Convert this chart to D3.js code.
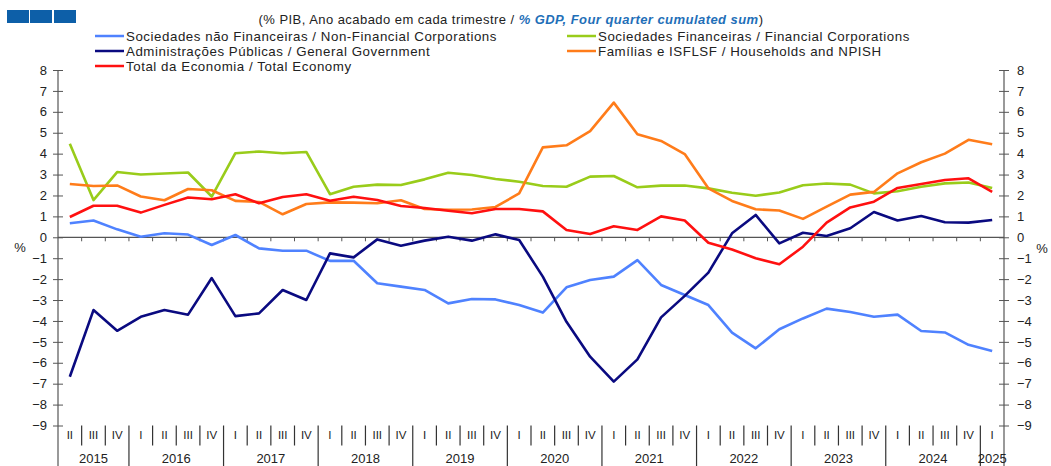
<!DOCTYPE html>
<html>
<head>
<meta charset="utf-8">
<script src="https://cdn.jsdelivr.net/npm/d3@7"></script>
<style>
  body { margin: 0; background: #fff; }
  text { font-family: "Liberation Sans", Arial, sans-serif; }
</style>
</head>
<body>
<script>
// Quarters: 2015 II .. 2025 I
const years = ['2015', '2016', '2017', '2018', '2019', '2020', '2021', '2022', '2023', '2024', '2025'];
const quarterNames = ['I', 'II', 'III', 'IV'];

const nonFinancial = [0.67, 0.8, 0.38, 0.03, 0.19, 0.13, -0.37, 0.11, -0.53, -0.64, -0.64, -1.13,
  -1.12, -2.2, -2.36, -2.52, -3.16, -2.95, -2.97, -3.24, -3.6, -2.39, -2.04, -1.88,
  -1.09, -2.28, -2.76, -3.24, -4.56, -5.31, -4.4, -3.88, -3.41, -3.57, -3.8, -3.7,
  -4.48, -4.55, -5.14, -5.44];
const financial = [4.47, 1.78, 3.12, 3.0, 3.05, 3.1, 1.95, 4.02, 4.1, 4.02, 4.08, 2.06,
  2.42, 2.52, 2.5, 2.77, 3.09, 2.98, 2.79, 2.66, 2.45, 2.42, 2.9, 2.93,
  2.39, 2.47, 2.48, 2.34, 2.13, 1.99, 2.14, 2.49, 2.57, 2.52, 2.1, 2.2,
  2.42, 2.58, 2.62, 2.36];
const government = [-6.67, -3.48, -4.47, -3.8, -3.48, -3.7, -1.95, -3.77, -3.64, -2.52, -3.0, -0.77,
  -0.96, -0.1, -0.4, -0.16, 0.03, -0.16, 0.14, -0.13, -1.88, -4.04, -5.71, -6.9,
  -5.84, -3.83, -2.8, -1.69, 0.19, 1.07, -0.29, 0.22, 0.06, 0.43, 1.21, 0.8,
  1.02, 0.72, 0.7, 0.83];
const households = [2.55, 2.45, 2.48, 1.95, 1.77, 2.31, 2.25, 1.74, 1.69, 1.1, 1.59, 1.67,
  1.66, 1.63, 1.77, 1.35, 1.32, 1.33, 1.45, 2.1, 4.3, 4.4, 5.08, 6.44,
  4.93, 4.61, 3.98, 2.34, 1.74, 1.34, 1.28, 0.88, 1.47, 2.04, 2.17, 3.06,
  3.59, 4.0, 4.66, 4.45];
const total = [0.97, 1.51, 1.51, 1.18, 1.55, 1.9, 1.82, 2.06, 1.63, 1.93, 2.06, 1.75,
  1.94, 1.78, 1.5, 1.4, 1.27, 1.15, 1.35, 1.35, 1.24, 0.35, 0.16, 0.53,
  0.35, 1.0, 0.8, -0.26, -0.58, -1.0, -1.29, -0.45, 0.7, 1.43, 1.7, 2.36,
  2.55, 2.74, 2.82, 2.17];

const yTicks = d3.range(-9, 9);

// build the quarter list
let quarters = [];
years.forEach(function (yr) {
  quarterNames.forEach(function (q, qi) {
    if (yr === '2015' && qi === 0) return;
    if (yr === '2025' && qi > 0) return;
    quarters.push({ key: yr + ' ' + q, year: yr, q: q });
  });
});

const series = [
  { name: 'Sociedades não Financeiras / Non-Financial Corporations', values: nonFinancial, color: '#4f82ff' },
  { name: 'Sociedades Financeiras / Financial Corporations', values: financial, color: '#99cc1a' },
  { name: 'Administrações Públicas / General Government', values: government, color: '#0a0a80' },
  { name: 'Famílias e ISFLSF / Households and NPISH', values: households, color: '#ff7c1a' },
  { name: 'Total da Economia / Total Economy', values: total, color: '#ff1010' }
];

let width = 1051, height = 466;
let margin = { top: 70, bottom: 40.5, left: 58, right: 47 };
let axisColor = '#555';

let svg = d3.select('body')
  .append('svg')
  .attr('width', width)
  .attr('height', height);

let xScale = d3.scaleBand()
  .domain(quarters.map(d => d.key))
  .range([margin.left, width - margin.right]);

let yScale = d3.scaleLinear()
  .domain([-9, 8])
  .range([height - margin.bottom, margin.top]);

// header blocks
[7, 30, 54].forEach(function (x) {
  svg.append('rect').attr('x', x).attr('y', 10).attr('width', 22).attr('height', 13).attr('fill', '#0d5fa8');
});

// title
let title = svg.append('text')
  .attr('x', 511).attr('y', 24)
  .attr('text-anchor', 'middle')
  .style('font-size', '13px')
  .style('letter-spacing', '0.45px')
  .attr('fill', '#222');
title.append('tspan').text('(% PIB, Ano acabado em cada trimestre / ');
title.append('tspan').text('% GDP, Four quarter cumulated sum')
  .attr('fill', '#1f6fb8').style('font-weight', 'bold').style('font-style', 'italic');
title.append('tspan').text(')');

// legend
let legendPos = [
  { x: 95, y: 36 }, { x: 567, y: 36 },
  { x: 95, y: 51 }, { x: 567, y: 51 },
  { x: 95, y: 66 }
];
series.forEach(function (s, i) {
  let p = legendPos[i];
  svg.append('line')
    .attr('x1', p.x).attr('x2', p.x + 29)
    .attr('y1', p.y).attr('y2', p.y)
    .attr('stroke', s.color).attr('stroke-width', 2.5);
  svg.append('text')
    .attr('x', p.x + 31).attr('y', p.y + 4.5)
    .style('font-size', '13.3px')
    .style('letter-spacing', '0.55px')
    .attr('fill', '#222')
    .text(s.name);
});

// y axes
let leftAxis = svg.append('g')
  .attr('transform', `translate(${margin.left},0)`)
  .call(d3.axisLeft(yScale).tickValues(yTicks).tickFormat(d3.format('d')).tickSize(5).tickPadding(6));
let rightAxis = svg.append('g')
  .attr('transform', `translate(${width - margin.right},0)`)
  .call(d3.axisRight(yScale).tickValues(yTicks).tickFormat(d3.format('d')).tickSize(5).tickPadding(8));

[leftAxis, rightAxis].forEach(function (ax) {
  ax.select('.domain').remove();
  ax.selectAll('.tick line').attr('x1', -5).attr('x2', 5).attr('stroke', axisColor);
  ax.selectAll('.tick text').style('font-size', '13px').attr('fill', '#222').style('font-family', '"Liberation Sans", Arial, sans-serif');
});

// vertical axis lines running down to the bottom
[margin.left, width - margin.right].forEach(function (x) {
  svg.append('line')
    .attr('x1', x).attr('x2', x)
    .attr('y1', yScale(8)).attr('y2', height)
    .attr('stroke', axisColor).attr('stroke-width', 1.2);
});

svg.append('text').attr('x', 20).attr('y', yScale(0) + 15).attr('text-anchor', 'middle')
  .style('font-size', '13px').attr('fill', '#222').text('%');
svg.append('text').attr('x', 1042).attr('y', yScale(0) + 16).attr('text-anchor', 'middle')
  .style('font-size', '13px').attr('fill', '#222').text('%');

// zero line with quarter ticks
let zeroAxis = svg.append('g')
  .attr('transform', `translate(0,${yScale(0)})`);
zeroAxis.append('line')
  .attr('x1', margin.left).attr('x2', width - margin.right)
  .attr('stroke', axisColor).attr('stroke-width', 1.2);
zeroAxis.selectAll('.zt')
  .data(quarters.slice(1))
  .enter()
  .append('line')
  .attr('x1', d => xScale(d.key)).attr('x2', d => xScale(d.key))
  .attr('y1', 0).attr('y2', 4)
  .attr('stroke', axisColor);

// bottom category axis
let bottomTop = yScale(-9);
let catAxis = svg.append('g');
catAxis.selectAll('.sep')
  .data(quarters.slice(1))
  .enter()
  .append('line')
  .attr('x1', d => xScale(d.key)).attr('x2', d => xScale(d.key))
  .attr('y1', bottomTop)
  .attr('y2', d => d.q === 'I' ? height : bottomTop + 20)
  .attr('stroke', '#333').attr('stroke-width', 1.2);
catAxis.selectAll('.ql')
  .data(quarters)
  .enter()
  .append('text')
  .attr('x', d => xScale(d.key) + xScale.bandwidth() / 2)
  .attr('y', bottomTop + 13)
  .attr('text-anchor', 'middle')
  .style('font-size', '11.5px')
  .attr('fill', '#222')
  .text(d => d.q);
catAxis.selectAll('.yl')
  .data(years)
  .enter()
  .append('text')
  .attr('x', function (yr) {
    let qs = quarters.filter(d => d.year === yr);
    let x0 = xScale(qs[0].key), x1 = xScale(qs[qs.length - 1].key) + xScale.bandwidth();
    return (x0 + x1) / 2;
  })
  .attr('y', height - 3)
  .attr('text-anchor', 'middle')
  .style('font-size', '13px')
  .attr('fill', '#222')
  .text(d => d);

// lines
let line = d3.line()
  .x((d, i) => xScale(quarters[i].key) + xScale.bandwidth() / 2)
  .y(d => yScale(d));

series.forEach(function (s) {
  svg.append('path')
    .datum(s.values)
    .attr('d', line)
    .attr('fill', 'none')
    .attr('stroke', s.color)
    .attr('stroke-width', 2.6)
    .attr('stroke-linejoin', 'round');
});
</script>
</body>
</html>
